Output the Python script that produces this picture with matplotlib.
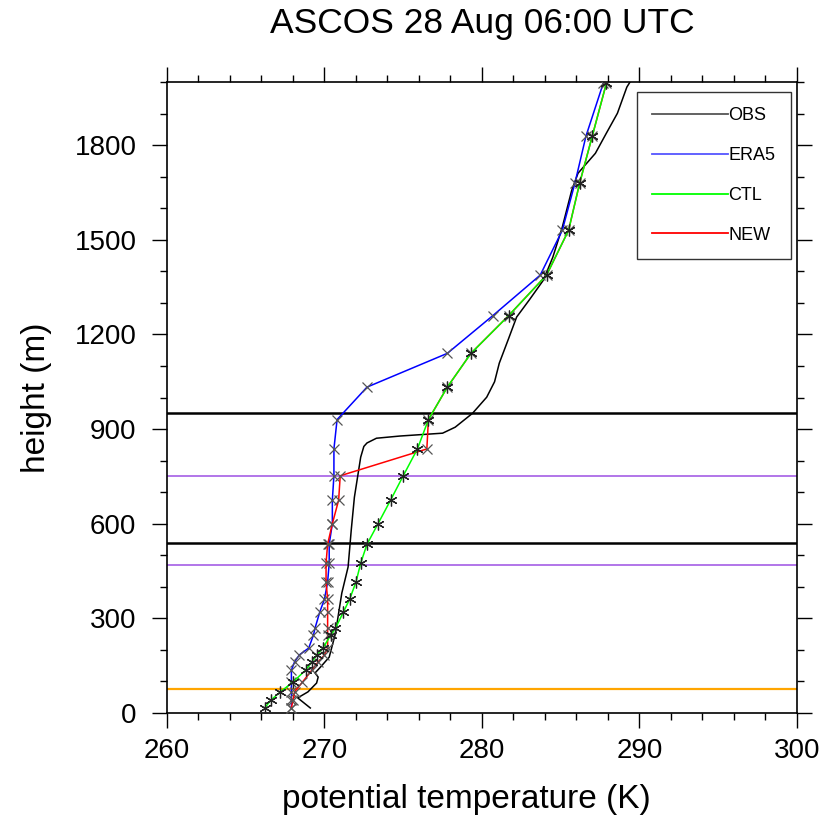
import numpy as np
import matplotlib
matplotlib.use("Agg")
import matplotlib.pyplot as plt
from matplotlib.lines import Line2D

plt.rcParams['font.family'] = ['Liberation Sans', 'DejaVu Sans']

# observed sounding (continuous)
obs_h = [16, 48, 67, 95, 114, 127, 143, 177, 253, 317, 380, 463, 580, 684, 811,
         845, 856, 871, 878, 887, 906, 950, 1001, 1050, 1109, 1188, 1255, 1309,
         1372, 1445, 1540, 1657, 1711, 1774, 1838, 1901, 1984, 2000]
obs_t = [269.1, 268.3, 268.95, 269.5, 269.6, 269.4, 269.7, 270.3, 270.7, 270.9,
         271.1, 271.5, 271.7, 271.9, 272.3, 272.5, 272.7, 273.3, 274.8, 277.5,
         278.3, 279.4, 280.3, 280.8, 281.1, 281.7, 282.2, 283.0, 283.9, 284.5,
         285.1, 285.7, 286.1, 287.2, 287.9, 288.6, 289.2, 289.4]

# model levels
lev_h = [16, 41, 67, 98, 136, 162, 184, 206, 247, 269, 320, 361, 415, 475, 535,
         600, 675, 752, 837, 930, 1033, 1140, 1260, 1388, 1530, 1679, 1828, 1996]

era5_t = [267.9, 267.9, 267.9, 267.9, 267.9, 268.1, 268.4, 269.0, 269.3, 269.4,
          269.7, 270.0, 270.2, 270.3, 270.3, 270.5, 270.5, 270.6, 270.6, 270.8,
          272.7, 277.8, 280.7, 283.7, 285.1, 285.9, 286.6, 287.7]
ctl_t = [266.2, 266.6, 267.2, 268.0, 268.8, 269.2, 269.5, 269.9, 270.4, 270.7,
         271.2, 271.6, 272.0, 272.3, 272.7, 273.4, 274.2, 275.0, 275.9, 276.6,
         277.8, 279.3, 281.7, 284.1, 285.5, 286.2, 287.0, 287.9]
new_t = [267.9, 268.0, 268.1, 268.6, 269.2, 269.6, 270.0, 270.2, 270.2, 270.2,
         270.2, 270.2, 270.1, 270.1, 270.2, 270.5, 270.9, 271.0, 276.5, 276.6,
         277.8, 279.3, 281.7, 284.1, 285.5, 286.2, 287.0, 287.9]

# reference heights (m)
black_lines = [950, 540]
purple_lines = [750, 470]
orange_lines = [76]

fig = plt.figure(figsize=(8.25, 8.32), dpi=100)
ax = fig.add_axes([0.2024, 0.143, 0.7636, 0.7584])

for h in black_lines:
    ax.axhline(h, color='black', lw=1.8, zorder=1)
for h in purple_lines:
    ax.axhline(h, color='#a45ee5', lw=1.2, zorder=1)
for h in orange_lines:
    ax.axhline(h, color='#ffa500', lw=1.6, zorder=1)

ax.plot(obs_t, obs_h, color='black', lw=1.1, label='OBS', zorder=3)
ax.plot(era5_t, lev_h, color='blue', lw=1.1, marker='x', ms=7.5, mec='#555555',
        mew=0.9, label='ERA5', zorder=4)
ax.plot(new_t, lev_h, color='red', lw=1.1, marker='x', ms=7.5, mec='#555555',
        mew=0.9, label='NEW', zorder=5)
ax.plot(ctl_t, lev_h, color='lime', lw=1.1, marker=(6, 2, 0), ms=8.5, mec='#222222',
        mew=0.9, label='CTL', zorder=6)

ax.set_xlim(260, 300)
ax.set_ylim(0, 2000)
ax.set_xticks([260, 270, 280, 290, 300])
ax.set_yticks(np.arange(0, 1801, 300))
ax.set_xticks(np.arange(260, 301, 2), minor=True)
ax.set_yticks(np.arange(0, 2001, 100), minor=True)
ax.tick_params(which='both', direction='out', top=True, right=True,
               labelsize=20, width=1.0)
ax.tick_params(axis='x', pad=7)
ax.tick_params(axis='y', pad=11)
ax.tick_params(which='major', length=11)
ax.tick_params(which='minor', length=5)
for s in ax.spines.values():
    s.set_linewidth(1.2)

ax.set_xlabel('potential temperature (K)', fontsize=24)
ax.xaxis.set_label_coords(0.476, -0.112)
ax.set_ylabel('height (m)', fontsize=24, labelpad=16)
ax.set_title('ASCOS 28 Aug 06:00 UTC', fontsize=25.5, pad=35)

order = ['OBS', 'ERA5', 'CTL', 'NEW']
leg_colors = ['#555555', '#5555ff', 'lime', 'red']
leg_handles = [Line2D([], [], color=c, lw=1.3) for c in leg_colors]
leg = ax.legend(leg_handles, order, loc='upper right',
                bbox_to_anchor=(0.9905, 0.984), borderaxespad=0,
                fontsize=13, handlelength=4.2, handletextpad=0.05,
                labelspacing=1.26, borderpad=0.85, fancybox=False,
                edgecolor='#333333', framealpha=1)
leg.get_frame().set_linewidth(1.0)

fig.savefig('out.png', dpi=100)
